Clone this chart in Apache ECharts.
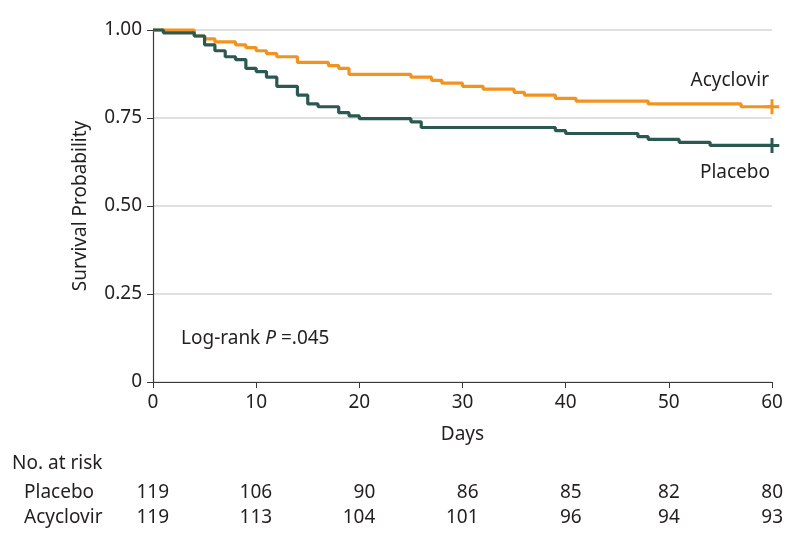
<!DOCTYPE html>
<html>
<head>
<meta charset="utf-8">
<script src="https://cdn.jsdelivr.net/npm/echarts@6/dist/echarts.min.js"></script>
<style>
html,body{margin:0;padding:0;background:#fff;}
#c{width:798px;height:546px;}
</style>
</head>
<body>
<div id="c"></div>
<script>
// Kaplan-Meier steps: [day, survival]
const placeboSteps = [
  [0,1.0],[1,0.992],[4,0.983],[5,0.958],[6,0.941],[7,0.924],[8,0.916],[9,0.891],
  [10,0.882],[11,0.866],[12,0.840],[14,0.815],[15,0.790],[16,0.782],[18,0.765],
  [19,0.756],[20,0.748],[25,0.739],[26,0.723],[39,0.714],[40,0.706],[47,0.697],
  [48,0.689],[51,0.681],[54,0.672],[60,0.672]
];
const acyclovirSteps = [
  [0,1.0],[4,0.983],[5,0.975],[6,0.966],[8,0.958],[9,0.950],[10,0.941],[11,0.933],
  [12,0.924],[14,0.908],[17,0.899],[18,0.891],[19,0.874],[25,0.866],[27,0.857],
  [28,0.849],[30,0.840],[32,0.832],[35,0.823],[36,0.815],[39,0.806],[41,0.798],
  [48,0.790],[57,0.782],[60,0.782]
];
const riskDays = [0,10,20,30,40,50,60];
const placeboAtRisk = [119,106,90,86,85,82,80];
const acyclovirAtRisk = [119,113,104,101,96,94,93];
const groupNames = ['Placebo','Acyclovir'];

const ORANGE = '#F3931F';
const DARK = '#2C5852';
const TXT = '#231F20';
const FONT = 'Noto Sans';
const FS = 19;
const PLUS = 'path://M5.75,0 H8.75 V15 H5.75 Z M0,6 H14.5 V9 H0 Z';

const chart = echarts.init(document.getElementById('c'), null, {renderer:'canvas'});
const option = {
  animation:false,
  backgroundColor:'#fff',
  textStyle:{fontFamily:FONT, color:TXT},
  grid:{left:153, right:26, top:30, bottom:164, containLabel:false},
  xAxis:{
    type:'value', min:0, max:60, interval:10,
    name:'Days', nameLocation:'middle', nameGap:43,
    nameTextStyle:{fontSize:FS, color:TXT, fontFamily:FONT},
    axisLine:{show:true, lineStyle:{color:'#3a3a3a', width:1.2}},
    axisTick:{show:true, length:6, lineStyle:{color:'#3a3a3a'}},
    axisLabel:{fontSize:FS, color:TXT, margin:11, fontFamily:FONT},
    splitLine:{show:false}
  },
  yAxis:{
    type:'value', min:0, max:1, interval:0.25,
    name:'Survival Probability', nameLocation:'middle', nameGap:63,
    nameTextStyle:{fontSize:FS, color:TXT, fontFamily:FONT},
    axisLine:{show:true, lineStyle:{color:'#3a3a3a', width:1.2}},
    axisTick:{show:true, length:6, lineStyle:{color:'#3a3a3a'}},
    axisLabel:{fontSize:FS, color:TXT, margin:11, fontFamily:FONT,
      formatter:v => v===0 ? '0' : v.toFixed(2)},
    splitLine:{show:true, lineStyle:{color:'#d6d6d6', width:1.5}}
  },
  series:[
    {type:'line', name:'Acyclovir', step:'end', data:acyclovirSteps, showSymbol:false,
     lineStyle:{color:ORANGE, width:3.2}, itemStyle:{color:ORANGE}, z:2, clip:false},
    {type:'line', name:'Placebo', step:'end', data:placeboSteps, showSymbol:false,
     lineStyle:{color:DARK, width:3.2}, itemStyle:{color:DARK}, z:3, clip:false},
    {type:'scatter', data:[acyclovirSteps[acyclovirSteps.length-1]], symbol:PLUS,
     symbolSize:[14.5,15], itemStyle:{color:ORANGE, opacity:1}, z:4, silent:true, clip:false},
    {type:'scatter', data:[placeboSteps[placeboSteps.length-1]], symbol:PLUS,
     symbolSize:[14.5,15], itemStyle:{color:DARK, opacity:1}, z:4, silent:true, clip:false}
  ]
};
chart.setOption(option);

function px(d, v){ return chart.convertToPixel({gridIndex:0}, [d, v]); }
const F = FS + 'px "' + FONT + '"';
const g = [];
const pA = px(60, 0.782), pP = px(60, 0.672);
g.push({type:'text', style:{text:'Acyclovir', x:pA[0]-3, y:81, align:'right', verticalAlign:'middle',
  font:F, fill:TXT}});
g.push({type:'text', style:{text:'Placebo', x:pP[0]-2, y:173, align:'right', verticalAlign:'middle',
  font:F, fill:TXT}});
g.push({type:'text', style:{
  rich:{n:{font:F, fill:TXT}, i:{font:'italic ' + F, fill:TXT}},
  text:'{n|Log-rank }{i|P}{n| =.045}', x:181, y:339, verticalAlign:'middle'}});
g.push({type:'text', style:{text:'No. at risk', x:12, y:464, verticalAlign:'middle',
  font:F, fill:TXT}});
const rows = [placeboAtRisk, acyclovirAtRisk];
const rowY = [493, 518];
rows.forEach((arr, r) => {
  g.push({type:'text', style:{text:groupNames[r], x:24, y:rowY[r], verticalAlign:'middle',
    font:F, fill:TXT}});
  arr.forEach((n, i) => {
    const x = px(riskDays[i], 0)[0] + (i < 5 ? 16 : 11);
    g.push({type:'text', style:{text:String(n), x:x, y:rowY[r], align:'right', verticalAlign:'middle',
      font:F, fill:TXT}});
  });
});
chart.setOption({graphic:g});
</script>
</body>
</html>
